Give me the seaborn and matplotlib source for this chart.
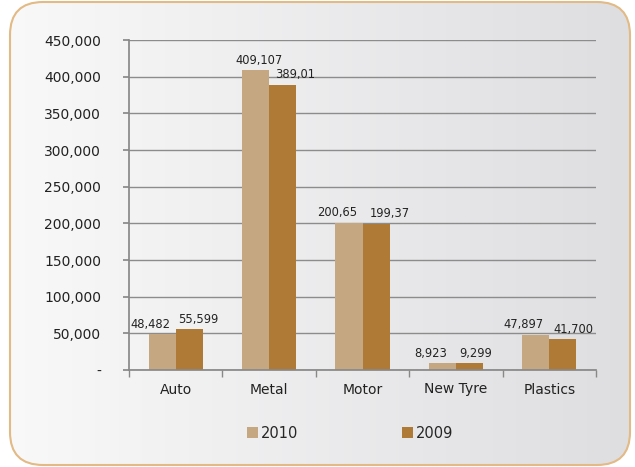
import numpy as np
import pandas as pd
import matplotlib
matplotlib.use("Agg")
import matplotlib.pyplot as plt
from matplotlib.patches import FancyBboxPatch, Patch
from matplotlib.colors import LinearSegmentedColormap
import seaborn as sns

categories = ["Auto", "Metal", "Motor", "New Tyre", "Plastics"]
series = ["2010", "2009"]
values_2010 = [48482, 409107, 200650, 8923, 47897]
values_2009 = [55599, 389010, 199370, 9299, 41700]
labels_2010 = ["48,482", "409,107", "200,65", "8,923", "47,897"]
labels_2009 = ["55,599", "389,01", "199,37", "9,299", "41,700"]
yticks = [0, 50000, 100000, 150000, 200000, 250000, 300000, 350000, 400000, 450000]
colors = {"2010": "#C5A882", "2009": "#AE7A35"}

# horizontal nudges (pixels) of the data labels, as the reference places them
nudge_2010 = [-12, 4, -12, -12, -12]
nudge_2009 = [9, 12, 14, 6, 11]

df = pd.DataFrame({
    "category": categories * 2,
    "year": ["2010"] * 5 + ["2009"] * 5,
    "value": values_2010 + values_2009,
})

sns.set_theme(style="white")
plt.rcParams['font.family'] = ['DejaVu Sans']

fig = plt.figure(figsize=(6.35, 4.67), dpi=100)

# gradient background inside a rounded border
bg = fig.add_axes([0, 0, 1, 1], zorder=0)
grad = np.linspace(0, 1, 256).reshape(1, -1)
cmap = LinearSegmentedColormap.from_list("g", ["#F9F9F9", "#DEDEE1"])
bg.imshow(grad, aspect="auto", cmap=cmap, extent=[0, 1, 0, 1])
bg.set_xlim(0, 1); bg.set_ylim(0, 1)
bg.axis("off")
fig.patch.set_facecolor("white")
box = FancyBboxPatch((10 / 635, 2 / 467), 620 / 635, 463 / 467,
                     boxstyle="round,pad=0,rounding_size=0.052",
                     transform=fig.transFigure, facecolor="none",
                     edgecolor="#E2BA85", linewidth=1.5, zorder=5,
                     mutation_aspect=635 / 467)
bg.add_patch(box)
bg.images[0].set_clip_path(box)

ax = fig.add_axes([129 / 635, (467 - 370) / 467, (596 - 129) / 635, 330 / 467], zorder=1)
ax.set_facecolor("none")
sns.barplot(data=df, x="category", y="value", hue="year", order=categories,
            hue_order=series, palette=colors, width=0.58, ax=ax,
            saturation=1, legend=False, edgecolor="none")

for c, labs, nud in zip(ax.containers, [labels_2010, labels_2009], [nudge_2010, nudge_2009]):
    for bar, lab, dx in zip(c, labs, nud):
        ax.annotate(lab, (bar.get_x() + bar.get_width() / 2, bar.get_height()),
                    xytext=(dx * 0.72, 2.5), textcoords="offset points",
                    ha="center", va="bottom", fontsize=8.3, color="#222222")

ax.set_ylim(0, 450000)
ax.set_xlim(-0.5, 4.5)
ax.set_yticks(yticks)
ax.set_yticklabels(["-"] + [f"{v:,}" for v in yticks[1:]], fontsize=10, color="#222222")
ax.tick_params(axis="y", length=4, color="#888888", pad=16, left=True)
ax.set_xticks(range(5))
ax.set_xticklabels(categories, fontsize=10, color="#222222")
ax.set_xticks(np.arange(-0.5, 5, 1), minor=True)
ax.tick_params(axis="x", which="major", length=0, pad=9)
ax.tick_params(axis="x", which="minor", length=5, color="#888888", bottom=True)
ax.grid(axis="y", color="#8C8C8C", linewidth=1)
ax.set_axisbelow(True)
for s in ["top", "right"]:
    ax.spines[s].set_visible(False)
ax.spines["left"].set_color("#888888")
ax.spines["bottom"].set_color("#888888")
ax.set_xlabel("")
ax.set_ylabel("")

handles = [Patch(facecolor=colors[s], edgecolor="none", label=s) for s in series]
fig.legend(handles=handles, loc="center", bbox_to_anchor=(0.551, 1 - 433 / 467),
           ncol=2, frameon=False, handlelength=0.75, handleheight=0.75,
           handletextpad=0.2, columnspacing=7.1, fontsize=10.5)

fig.savefig("out.png", dpi=100, facecolor="white")
